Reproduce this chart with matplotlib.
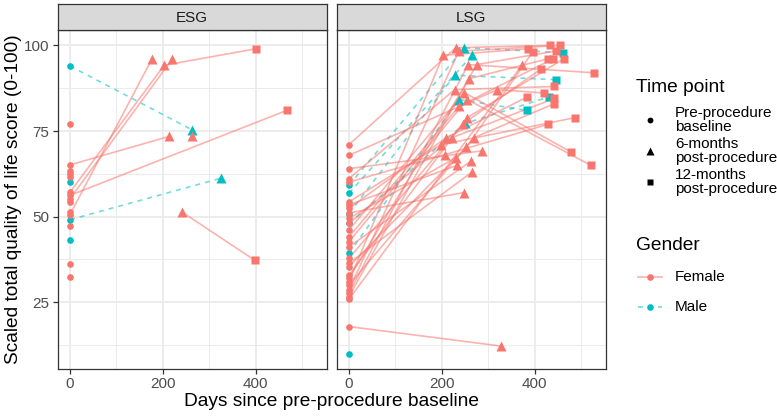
"""
Quality of life scores over time after ESG / LSG, by gender
"""

import numpy as np
import matplotlib
matplotlib.use("Agg")
import matplotlib.pyplot as plt

nan = np.nan

##########################
# DATA
##########################

# ESG panel, one entry per patient (baseline is at day 0)
esg_gender = ["Male", "Male", "Male", "Male",
              "Female", "Female", "Female", "Female", "Female", "Female", "Female",
              "Female", "Female", "Female", "Female", "Female", "Female", "Female",
              "Female", "Female"]
esg_base = [94.0, 49.1, 60.0, 43.1,
            77.0, 65.1, 56.2, 57.1, 55.2, 50.6, 63.2,
            62.5, 61.7, 54.2, 51.3, 47.2, 36.2, 32.4,
            nan, nan]
esg_d6 = [264, 325, nan, nan,
          nan, 213, nan, 203, 221, 177, nan,
          nan, nan, nan, nan, nan, nan, nan,
          264, 242]
esg_s6 = [75.3, 61.2, nan, nan,
          nan, 73.4, nan, 94.2, 96.1, 96.1, nan,
          nan, nan, nan, nan, nan, nan, nan,
          73.4, 51.3]
esg_d12 = [nan, nan, nan, nan,
           nan, nan, 467, 400, nan, nan, nan,
           nan, nan, nan, nan, nan, nan, nan,
           nan, 399]
esg_s12 = [nan, nan, nan, nan,
           nan, nan, 81.0, 99.0, nan, nan, nan,
           nan, nan, nan, nan, nan, nan, nan,
           nan, 37.2]

# LSG panel
lsg_gender = ["Male"] * 6 + ["Female"] * 27
lsg_base = [59.2, 56.8, 50.9, 39.3, 48.0, 10.0,
            71.0, 67.9, 64.0, 61.1, 60.1, 54.3, 53.4, 52.4, 51.1, 49.5,
            48.0, 46.1, 44.1, 42.7, 41.2, 37.8, 36.4, 35.4, 32.9, 32.0,
            31.0, 30.0, 28.6, 27.6, 26.6, 25.9, 17.9]
lsg_d6 = [249, 265, 228, 237, 250, nan,
          230, 320, 286, 228, 207, 198, 233, 210, 247, 230,
          223, 249, 237, 255, 264, 245, 266, 253, 255, 259,
          203, 270, 237, 257, 275, 374, 327]
lsg_s6 = [99.3, 97.1, 91.3, 84.2, 77.2, nan,
          99.3, 87.1, 69.2, 87.1, 68.1, 71.0, 65.0, 73.1, 57.0, 67.2,
          73.1, 86.2, 82.2, 84.2, 66.3, 77.0, 63.1, 70.2, 78.9, 90.3,
          97.1, 73.1, 98.3, 94.4, 94.4, 94.4, 12.2]
lsg_d12 = [461, nan, 446, 384, 432, nan,
           434, 420, nan, 443, 430, 487, nan, 384, nan, nan,
           443, 478, 440, 521, nan, 413, nan, 396, 463, 429,
           386, 443, 454, 528, 447, nan, nan]
lsg_s12 = [97.9, nan, 90.0, 81.0, 85.0, nan,
           100.0, 86.1, nan, 88.0, 77.0, 78.9, nan, 84.9, nan, nan,
           84.5, 68.9, 96.1, 65.0, nan, 93.0, nan, 98.1, 96.1, 96.1,
           99.0, 83.0, 100.0, 92.0, 98.4, nan, nan]

colors = {"Female": "#F8766D", "Male": "#00BFC4"}
dashes = {"Female": "-", "Male": (0, (3, 3))}

plt.rcParams["font.family"] = ["Liberation Sans", "DejaVu Sans"]

W, H = 777, 416
fig = plt.figure(figsize=(W / 100, H / 100), dpi=100)


def px(x0, y0, x1, y1):
    return [x0 / W, 1 - y1 / H, (x1 - x0) / W, (y1 - y0) / H]


def draw_panel(ax, gender, base, d6, s6, d12, s12):
    n = len(gender)
    # lines first
    for i in range(n):
        xs = [0, d6[i], d12[i]]
        ys = [base[i], s6[i], s12[i]]
        pts = [(x, y) for x, y in zip(xs, ys) if not np.isnan(y)]
        if len(pts) > 1:
            px_, py_ = zip(*pts)
            ax.plot(px_, py_, color=colors[gender[i]], alpha=0.55, lw=1.2,
                    ls=dashes[gender[i]], zorder=2, solid_capstyle="butt")
    # then points
    for i in range(n):
        c = colors[gender[i]]
        if not np.isnan(base[i]):
            ax.plot(0, base[i], "o", color=c, ms=4.8, mec="none", zorder=3)
        if not np.isnan(s6[i]):
            ax.plot(d6[i], s6[i], "^", color=c, ms=6.5, mec="none", zorder=3)
        if not np.isnan(s12[i]):
            ax.plot(d12[i], s12[i], "s", color=c, ms=5.4, mec="none", zorder=3)

    ax.set_xlim(-26.4, 553.4)
    ax.set_ylim(5.5, 104.5)
    ax.set_xticks([0, 200, 400])
    ax.set_xticks([100, 300, 500], minor=True)
    ax.set_yticks([25, 50, 75, 100])
    ax.set_yticks([12.5, 37.5, 62.5, 87.5], minor=True)
    ax.grid(which="major", color="#EBEBEB", lw=1.3, zorder=0)
    ax.grid(which="minor", color="#EBEBEB", lw=0.7, zorder=0)
    ax.set_axisbelow(True)
    for s in ax.spines.values():
        s.set_color("#333333")
        s.set_linewidth(0.9)
    ax.tick_params(which="major", length=3.5, width=0.9, color="#333333",
                   labelsize=11, labelcolor="#4D4D4D", pad=2.5)
    ax.tick_params(which="minor", length=0)


panels = [("ESG", 57.7, 326.7, (esg_gender, esg_base, esg_d6, esg_s6, esg_d12, esg_s12)),
          ("LSG", 336.7, 605.7, (lsg_gender, lsg_base, lsg_d6, lsg_s6, lsg_d12, lsg_s12))]

for k, (name, x0, x1, data) in enumerate(panels):
    ax = fig.add_axes(px(x0, 30, x1, 369))
    draw_panel(ax, *data)
    if k > 0:
        ax.tick_params(axis="y", labelleft=False, length=0)
    sx = fig.add_axes(px(x0, 4, x1, 30))
    sx.set_facecolor("#D9D9D9")
    sx.set_xticks([])
    sx.set_yticks([])
    for s in sx.spines.values():
        s.set_color("#333333")
        s.set_linewidth(0.9)
    sx.text(0.5, 0.45, name, ha="center", va="center", fontsize=11,
            color="#1A1A1A", transform=sx.transAxes)

fig.text(331.7 / W, 1 - 402 / H, "Days since pre-procedure baseline",
         ha="center", va="center", fontsize=13.8)
fig.text(14 / W, 1 - 199.5 / H, "Scaled total quality of life score (0-100)",
         ha="center", va="center", rotation=90, fontsize=13.8)

# legends
lg = fig.add_axes([0, 0, 1, 1])
lg.set_xlim(0, W)
lg.set_ylim(H, 0)
lg.axis("off")
lg.patch.set_alpha(0)

lg.text(636, 88, "Time point", ha="left", va="center", fontsize=13.8)
tp_labels = ["Pre-procedure\nbaseline", "6-months\npost-procedure", "12-months\npost-procedure"]
tp_markers = [("o", 4.2), ("^", 5.6), ("s", 4.6)]
tp_y = [120, 151, 182]
for lab, (m, ms), y in zip(tp_labels, tp_markers, tp_y):
    lg.plot(650, y, m, color="black", ms=ms, mec="none")
    lg.text(675, y, lab, ha="left", va="center", fontsize=11, linespacing=0.95)

lg.text(636, 245, "Gender", ha="left", va="center", fontsize=13.8)
for g, y in zip(["Female", "Male"], [277, 307]):
    lg.plot([638, 662], [y, y], color=colors[g], alpha=0.55, lw=1.2, ls=dashes[g])
    lg.plot(650, y, "o", color=colors[g], ms=4.8, mec="none")
    lg.text(675, y, g, ha="left", va="center", fontsize=11)

plt.savefig("out.png", dpi=100)
